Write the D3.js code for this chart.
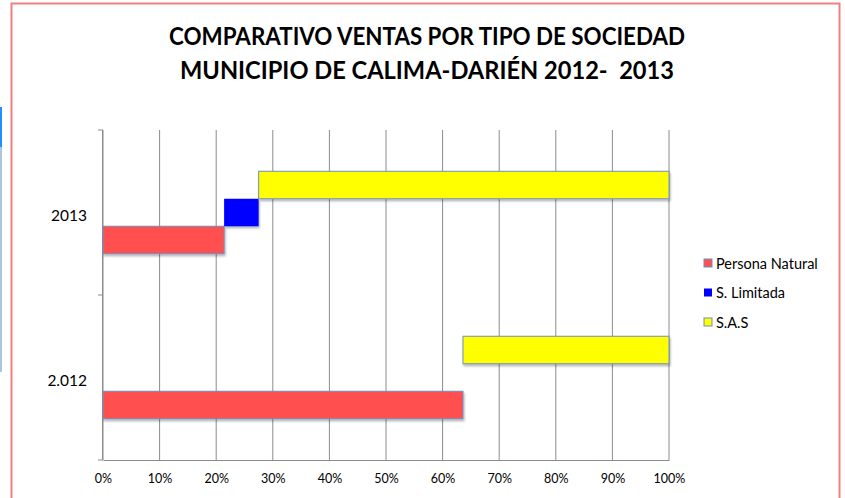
<!DOCTYPE html>
<html>
<head>
<meta charset="utf-8">
<script src="https://cdn.jsdelivr.net/npm/d3@7"></script>
<style>
  body { margin: 0; background: #fff; }
  text { font-family: Lato, "Open Sans", sans-serif; fill: #000; }
</style>
</head>
<body>
<div id="chart"></div>
<script>
var svgWidth = 845;
var svgHeight = 498;

// data (share of sales, %)
var years = ["2013", "2.012"];
var series = ["Persona Natural", "S. Limitada", "S.A.S"];
var personaNatural = [21.4, 63.6];
var sLimitada = [6.1, 0];
var sas = [72.5, 36.4];
var colors = ["#ff5050", "#0000ff", "#ffff00"];
var xTicks = [0, 10, 20, 30, 40, 50, 60, 70, 80, 90, 100];

var margin = { top: 130, left: 103, right: 176, bottom: 38 };
var width = svgWidth - margin.left - margin.right;
var height = svgHeight - margin.top - margin.bottom;

var svg = d3.select("#chart")
  .append("svg")
  .attr("width", svgWidth)
  .attr("height", svgHeight);

var defs = svg.append("defs");
var shadow = defs.append("filter").attr("id", "shadow")
  .attr("x", "-5%").attr("y", "-20%").attr("width", "110%").attr("height", "160%");
shadow.append("feDropShadow")
  .attr("dx", 1).attr("dy", 2).attr("stdDeviation", 1.2)
  .attr("flood-color", "#000").attr("flood-opacity", 0.3);

// side strip outside the frame
svg.append("rect").attr("x", 0).attr("y", 107).attr("width", 2).attr("height", 265).attr("fill", "#a9c6dc");
svg.append("rect").attr("x", 0).attr("y", 107).attr("width", 2).attr("height", 40).attr("fill", "#1e90ff");

// outer frame
svg.append("rect")
  .attr("x", 11.5).attr("y", 3.5)
  .attr("width", 828).attr("height", 500)
  .attr("fill", "#fff")
  .attr("stroke", "#f08080")
  .attr("stroke-width", 2);

// title
var title = svg.append("text")
  .attr("text-anchor", "middle")
  .style("font-weight", "bold")
  .style("font-size", "24px")
  .style("white-space", "pre");
title.append("tspan").attr("x", 427).attr("y", 45)
  .attr("textLength", 516).attr("lengthAdjust", "spacingAndGlyphs")
  .text("COMPARATIVO VENTAS POR TIPO DE SOCIEDAD");
title.append("tspan").attr("x", 427).attr("y", 79)
  .attr("textLength", 494).attr("lengthAdjust", "spacingAndGlyphs")
  .text("MUNICIPIO DE CALIMA-DARIÉN 2012-  2013");

var chartGroup = svg.append("g")
  .attr("transform", `translate(${margin.left}, ${margin.top})`);

var xScale = d3.scaleLinear().domain([0, 100]).range([0, width]);
var yScale = d3.scaleBand().domain(years).range([0, height]);
var subScale = d3.scaleBand().domain(series.slice().reverse())
  .range([0, yScale.bandwidth()]).paddingOuter(1.5).paddingInner(0);

// gridlines
chartGroup.append("g")
  .selectAll("line")
  .data(xTicks)
  .enter()
  .append("line")
  .attr("x1", d => xScale(d)).attr("x2", d => xScale(d))
  .attr("y1", 0).attr("y2", height)
  .attr("stroke", "#8c8c8c").attr("stroke-width", 1);

// x axis
var bottomAxis = d3.axisBottom(xScale)
  .tickValues(xTicks)
  .tickSize(0)
  .tickPadding(14)
  .tickFormat(d => d + "%");
var xAxis = chartGroup.append("g")
  .attr("transform", `translate(0, ${height})`)
  .call(bottomAxis);
xAxis.select(".domain").attr("stroke", "#8c8c8c");
xAxis.selectAll("text").style("font-size", "12.5px").style("font-family", "Lato, sans-serif");

// y axis with ticks at band edges
chartGroup.append("line")
  .attr("x1", -0.5).attr("x2", -0.5).attr("y1", 0).attr("y2", height)
  .attr("stroke", "#8c8c8c");
chartGroup.append("g")
  .selectAll("line")
  .data([0, 1, 2])
  .enter()
  .append("line")
  .attr("x1", -5).attr("x2", 0)
  .attr("y1", d => d * yScale.step()).attr("y2", d => d * yScale.step())
  .attr("stroke", "#8c8c8c");
chartGroup.selectAll(".ylabel")
  .data(years)
  .enter()
  .append("text")
  .attr("class", "ylabel")
  .attr("x", -16)
  .attr("y", d => yScale(d) + yScale.bandwidth() / 2 + 8)
  .attr("text-anchor", "end")
  .style("font-size", "15.5px")
  .text(d => d);

// bars, each series offset vertically but stacked along x
var table = years.map(function(y, i) {
  var vals = [personaNatural[i], sLimitada[i], sas[i]];
  var start = 0;
  return series.map(function(s, j) {
    var seg = { year: y, series: s, idx: j, x0: start, x1: start + vals[j] };
    start += vals[j];
    return seg;
  });
});
var segs = [].concat.apply([], table).filter(d => d.x1 - d.x0 > 0);

chartGroup.selectAll(".bar")
  .data(segs)
  .enter()
  .append("rect")
  .attr("class", "bar")
  .attr("x", d => xScale(d.x0))
  .attr("y", d => yScale(d.year) + subScale(d.series))
  .attr("width", d => xScale(d.x1) - xScale(d.x0))
  .attr("height", subScale.bandwidth())
  .attr("fill", d => colors[d.idx])
  .attr("stroke", d => d.idx === 1 ? "none" : "#6f8fc0")
  .attr("stroke-width", 1)
  .attr("filter", "url(#shadow)");

// legend
var legend = svg.append("g").attr("transform", "translate(704, 258)");
var items = legend.selectAll("g")
  .data(series)
  .enter()
  .append("g")
  .attr("transform", (d, i) => `translate(0, ${i * 29.5})`);
items.append("rect")
  .attr("width", 8).attr("height", 8).attr("y", 1)
  .attr("fill", (d, i) => colors[i])
  .attr("stroke", (d, i) => i === 1 ? "none" : "#6f8fc0");
items.append("text")
  .attr("x", 12).attr("y", 10.5)
  .style("font-size", "14.5px")
  .text(d => d);
</script>
</body>
</html>
